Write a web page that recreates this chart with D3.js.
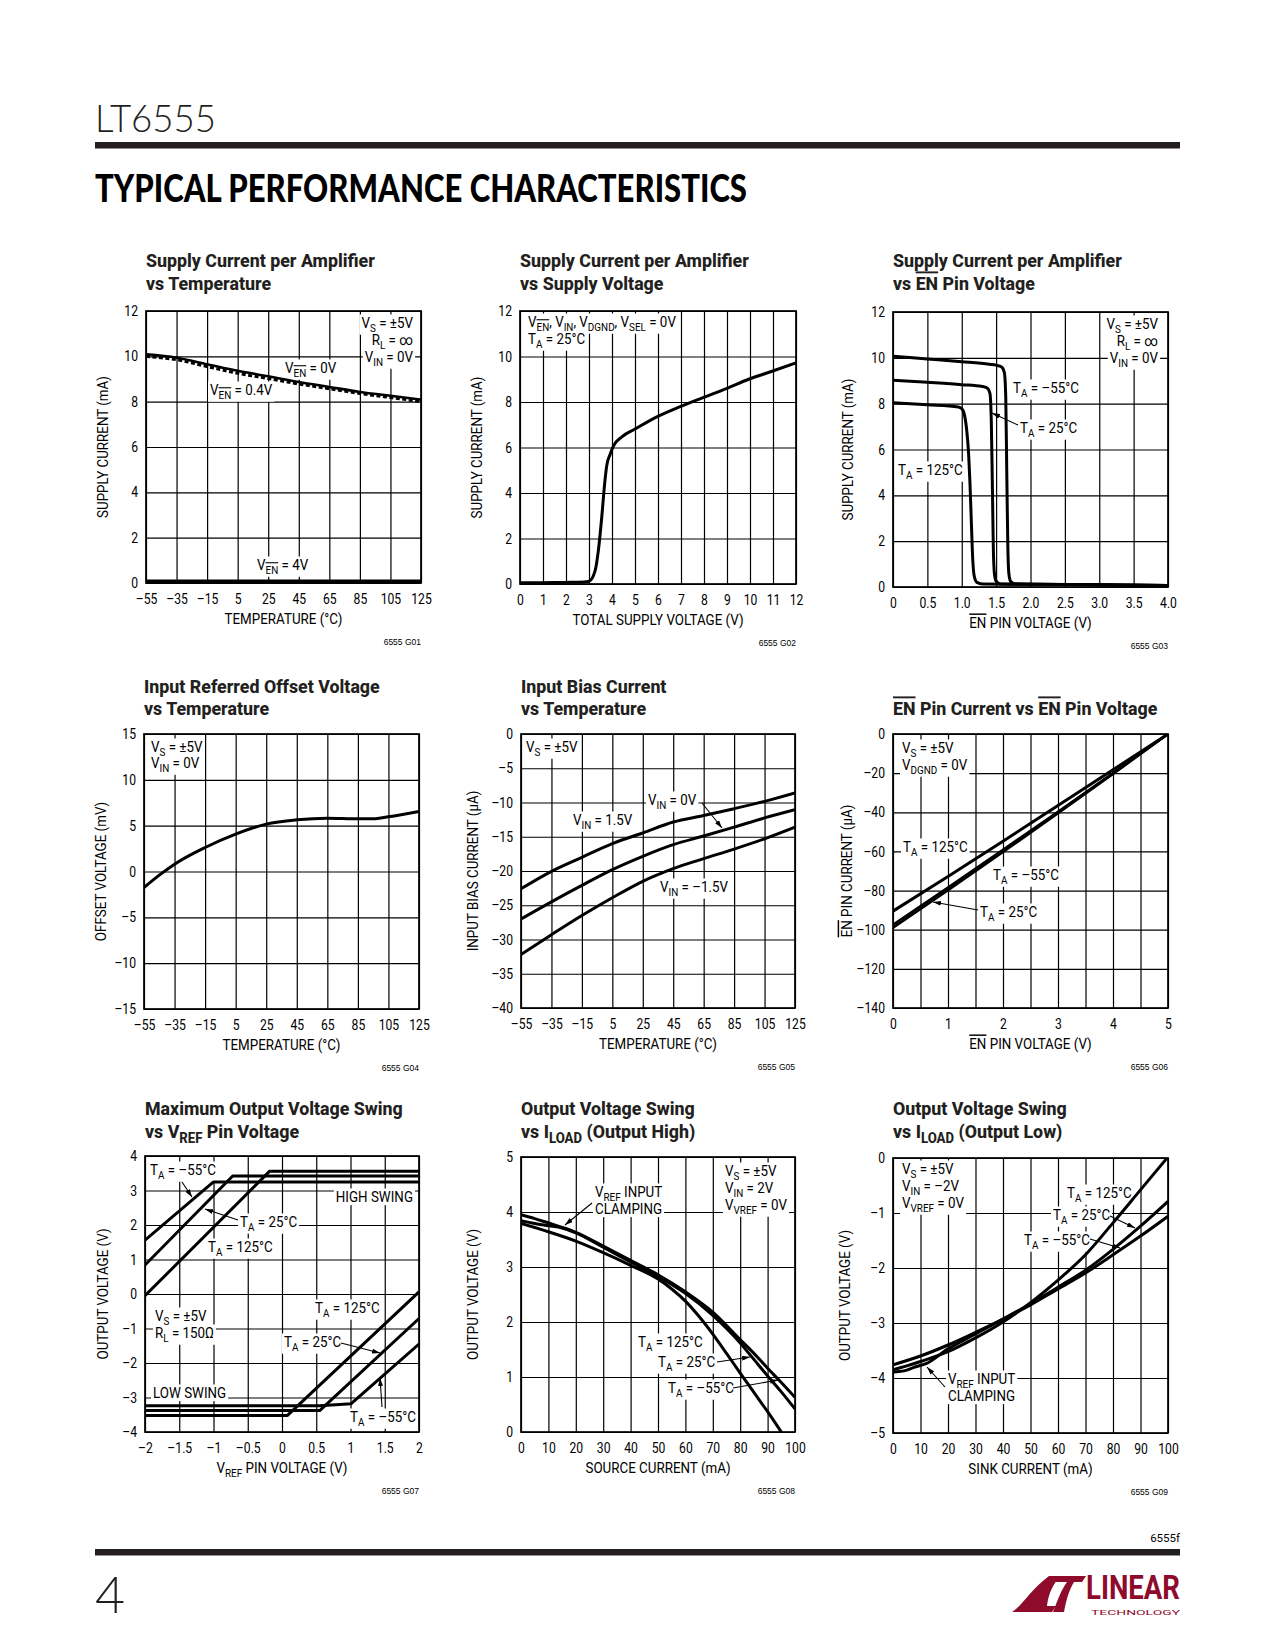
<!DOCTYPE html>
<html><head><meta charset="utf-8">
<script src="https://cdn.jsdelivr.net/npm/d3@7"></script>
<style>
body{margin:0;background:#fff;}
</style></head><body>
<script>
// ================= DATA =================
const tempTicks = [-55,-35,-15,5,25,45,65,85,105,125];
const tempTickLabels = ["–55","–35","–15","5","25","45","65","85","105","125"];
const supplyTicks = [0,2,4,6,8,10,12];
const supplyTickLabels = ["0","2","4","6","8","10","12"];

// G01 supply current vs temperature
const g01_temp = [-55,-35,-15,5,25,45,65,85,105,125];
const g01_ven0V = [10.09,9.94,9.65,9.36,9.12,8.87,8.65,8.43,8.26,8.09];
const g01_ven04V = [10.0,9.85,9.55,9.25,9.02,8.78,8.57,8.36,8.18,8.01];
const g01_ven4V = [0.08,0.08,0.08,0.08,0.08,0.08,0.08,0.08,0.08,0.08];

// G02 supply current vs supply voltage
const g02_xTicks = [0,1,2,3,4,5,6,7,8,9,10,11,12];
const g02_xTickLabels = ["0","1","2","3","4","5","6","7","8","9","10","11","12"];
const g02_vs = [0,1,2,2.8,3.0,3.27,3.41,3.56,3.67,3.77,3.92,4.06,4.43,4.98,5.95,6.97,7.98,9.0,9.94,10.96,12];
const g02_is = [0.05,0.06,0.07,0.09,0.12,0.6,1.5,3.0,4.3,5.2,5.7,6.06,6.47,6.8,7.35,7.8,8.2,8.6,9.0,9.35,9.72];

// G03 supply current vs EN pin voltage
const g03_xTicks = [0,0.5,1,1.5,2,2.5,3,3.5,4];
const g03_xTickLabels = ["0","0.5","1.0","1.5","2.0","2.5","3.0","3.5","4.0"];
const g03_m55_v = [0,0.5,1.0,1.4,1.5,1.58,1.62,1.64,1.655,1.67,1.685,1.71,1.77,2,3,4];
const g03_m55_i = [10.07,9.95,9.83,9.72,9.68,9.6,9.35,8.3,5,1.8,0.6,0.25,0.14,0.12,0.1,0.07];
const g03_25_v = [0,0.5,1.0,1.3,1.37,1.41,1.43,1.445,1.46,1.475,1.5,1.56,2,3,4];
const g03_25_i = [9.02,8.93,8.83,8.75,8.68,8.45,7.2,4.5,1.6,0.6,0.25,0.13,0.12,0.1,0.07];
const g03_125_v = [0,0.5,0.95,1.0,1.04,1.08,1.1,1.12,1.14,1.16,1.18,1.22,1.3,2,3,4];
const g03_125_i = [8.04,7.95,7.85,7.78,7.5,6.6,5.8,4.5,2.8,1.2,0.5,0.2,0.13,0.12,0.1,0.07];

// G04 offset voltage vs temperature
const g04_yTicks = [-15,-10,-5,0,5,10,15];
const g04_yTickLabels = ["–15","–10","–5","0","5","10","15"];
const g04_temp = [-55,-45,-35,-15,5,25,45,65,85,95,105,125];
const g04_vos = [-1.75,-0.4,0.8,2.62,4.08,5.17,5.64,5.82,5.75,5.75,5.97,6.55];

// G05 input bias current vs temperature
const g05_yTicks = [-40,-35,-30,-25,-20,-15,-10,-5,0];
const g05_yTickLabels = ["–40","–35","–30","–25","–20","–15","–10","–5","0"];
const g05_temp = [-55,-35,-15,5,25,45,65,85,105,125];
const g05_vin15 = [-22.6,-20.05,-18.0,-16.0,-14.45,-12.85,-11.9,-10.9,-9.83,-8.6];
const g05_vin0 = [-27.0,-24.5,-22.1,-19.8,-17.85,-16.15,-14.9,-13.6,-12.25,-11.05];
const g05_vinm15 = [-32.2,-29.3,-26.5,-23.9,-21.5,-19.65,-18.2,-16.8,-15.3,-13.6];

// G06 EN pin current vs EN pin voltage
const g06_xTicks = [0,1,2,3,4,5];
const g06_xTickLabels = ["0","1","2","3","4","5"];
const g06_xGrid = [0,0.5,1,1.5,2,2.5,3,3.5,4,4.5,5];
const g06_yTicks = [-140,-120,-100,-80,-60,-40,-20,0];
const g06_yTickLabels = ["–140","–120","–100","–80","–60","–40","–20","0"];
const g06_v = [0,1,2,3,4,5];
const g06_125 = [-90.5,-72.8,-54.8,-36.5,-18.3,0];
const g06_m55 = [-97.5,-78.5,-59.2,-39.7,-20,0];
const g06_25 = [-99,-79.8,-60.3,-40.5,-20.4,0];

// G07 max output swing vs VREF
const g07_xTicks = [-2,-1.5,-1,-0.5,0,0.5,1,1.5,2];
const g07_xTickLabels = ["–2","–1.5","–1","–0.5","0","0.5","1","1.5","2"];
const g07_yTicks = [-4,-3,-2,-1,0,1,2,3,4];
const g07_yTickLabels = ["–4","–3","–2","–1","0","1","2","3","4"];
const g07_hi_m55_x = [-2,-1,2],      g07_hi_m55_y = [1.56,3.25,3.25];
const g07_hi_25_x  = [-2,-0.72,2],   g07_hi_25_y  = [0.84,3.42,3.42];
const g07_hi_125_x = [-2,-0.18,2],   g07_hi_125_y = [-0.05,3.56,3.56];
const g07_lo_125_x = [-2,0.08,2],    g07_lo_125_y = [-3.52,-3.52,0.06];
const g07_lo_25_x  = [-2,0.55,2],    g07_lo_25_y  = [-3.38,-3.38,-0.71];
const g07_lo_m55_x = [-2,0.55,1.01,2], g07_lo_m55_y = [-3.24,-3.24,-3.18,-1.45];

// G08 output swing high vs source current
const loadTicks = [0,10,20,30,40,50,60,70,80,90,100];
const loadTickLabels = ["0","10","20","30","40","50","60","70","80","90","100"];
const g08_yTicks = [0,1,2,3,4,5];
const g08_yTickLabels = ["0","1","2","3","4","5"];
const g08_m55_x = [0,5,10,15,20,30,40,50,60,70,80,85,90,95,100];
const g08_m55_y = [3.95,3.88,3.8,3.72,3.63,3.38,3.12,2.86,2.55,2.18,1.68,1.43,1.16,0.9,0.63];
const g08_25_x = [0,5,10,15,20,30,40,50,60,70,80,85,90,95,100];
const g08_25_y = [3.84,3.79,3.75,3.71,3.62,3.36,3.09,2.83,2.52,2.12,1.62,1.32,1.02,0.73,0.42];
const g08_125_x = [0,10,20,30,40,50,55,60,65,70,75,80,85,90,95];
const g08_125_y = [3.79,3.64,3.47,3.26,3.03,2.78,2.6,2.38,2.1,1.78,1.43,1.07,0.72,0.37,0.0];

// G09 output swing low vs sink current
const g09_yTicks = [-5,-4,-3,-2,-1,0];
const g09_yTickLabels = ["–5","–4","–3","–2","–1","0"];
const g09_125_x = [0,5,10,20,30,40,50,60,70,80,90,100];
const g09_125_y = [-3.85,-3.78,-3.7,-3.52,-3.27,-2.98,-2.63,-2.22,-1.76,-1.18,-0.58,0.02];
const g09_25_x = [0,4,8,12,20,30,40,50,60,70,80,90,100];
const g09_25_y = [-3.89,-3.87,-3.8,-3.74,-3.47,-3.2,-2.93,-2.65,-2.35,-2.04,-1.66,-1.24,-0.79];
const g09_m55_x = [0,10,20,30,40,50,60,70,80,90,100];
const g09_m55_y = [-3.76,-3.6,-3.4,-3.17,-2.93,-2.67,-2.38,-2.09,-1.76,-1.42,-1.06];

// ================= DRAWING =================
const FONT = 'Roboto,"Liberation Sans",Arial,sans-serif';
const svg = d3.select("body").append("svg").attr("width",1275).attr("height",1650)
  .style("background","#fff").attr("font-family",FONT);
const defs = svg.append("defs");
defs.append("marker").attr("id","arr").attr("viewBox","0 0 10 10").attr("refX",10).attr("refY",5)
  .attr("markerWidth",8).attr("markerHeight",5).attr("markerUnits","userSpaceOnUse")
  .attr("preserveAspectRatio","none").attr("orient","auto")
  .append("path").attr("d","M0,0 L10,5 L0,10 z").attr("fill","#000");

function measure(str, fs, weight){
  const t = svg.append("text").attr("font-size",fs).attr("font-weight",weight||null).text(str);
  const w = t.node().getComputedTextLength(); t.remove(); return w;
}
// horizontal compression factors to emulate the condensed datasheet face
const BODY_FS = 14.5, TICK_FS = 14.5, TITLE_FS = 19, TITLE_W = 800;
const bodySX = 118 / measure("TEMPERATURE (°C)", BODY_FS);
const tickSX = 20.5 / measure("125", TICK_FS);
const titleSX = 229 / measure("Supply Current per Amplifier", TITLE_FS, TITLE_W);

function rich(textSel, str, fs){
  const parts = str.split(/(_\{[^}]*\}|\^\{[^}]*\})/).filter(s=>s.length);
  let shifted = false;
  parts.forEach(p=>{
    let t=p, sub=false, over=false;
    if (p.startsWith("_{")) { t=p.slice(2,-1); sub=true; if (t.startsWith("!")) { over=true; t=t.slice(1);} }
    else if (p.startsWith("^{")) { t=p.slice(2,-1); over=true; }
    const ts = textSel.append("tspan").text(t);
    if (sub) { ts.attr("font-size", fs*0.74); if(!shifted){ ts.attr("dy", fs*0.25); shifted=true; } }
    else if (shifted) { ts.attr("dy", -fs*0.25); shifted=false; }
    if (over) ts.attr("text-decoration","overline");
  });
}
// text at (x,y) compressed horizontally by sx
function stext(parent, x, y, str, fs, sx, o={}){
  const g = parent.append("g").attr("transform",`translate(${x},${y})${o.rot?" rotate(-90)":""} scale(${sx},1)`);
  const t = g.append("text").attr("font-size",fs).attr("text-anchor",o.anchor||"start")
    .attr("font-weight",o.weight||null).attr("fill",o.fill||"#000");
  if (o.dy) t.attr("dy",o.dy);
  rich(t, str, fs);
  return t;
}

function series(xs, ys, opt={}){ return Object.assign({pts: xs.map((v,i)=>[v, ys[i]])}, opt); }

let clipN = 0;
function chart(cfg){
  const [x0,y0,x1,y1] = cfg.box;
  const x = d3.scaleLinear().domain(cfg.xDomain).range([x0,x1]);
  const y = d3.scaleLinear().domain(cfg.yDomain).range([y1,y0]);
  const g = svg.append("g");
  const cid = "clip"+(clipN++);
  defs.append("clipPath").attr("id",cid).append("rect").attr("x",x0).attr("y",y0).attr("width",x1-x0).attr("height",y1-y0);

  // grid
  const gx = g.append("g").attr("transform",`translate(0,${y1})`)
    .call(d3.axisBottom(x).tickValues(cfg.xGrid||cfg.xTicks).tickSize(-(y1-y0)).tickFormat(""));
  gx.select(".domain").remove();
  gx.selectAll("line").attr("stroke","#000").attr("stroke-width",1.2);
  const gy = g.append("g").attr("transform",`translate(${x0},0)`)
    .call(d3.axisLeft(y).tickValues(cfg.yTicks).tickSize(-(x1-x0)).tickFormat(""));
  gy.select(".domain").remove();
  gy.selectAll("line").attr("stroke","#000").attr("stroke-width",1.2);

  // tick labels
  const tx = g.append("g").attr("transform",`translate(0,${y1})`)
    .call(d3.axisBottom(x).tickValues(cfg.xTicks).tickSize(0).tickPadding(11).tickFormat((d,i)=>cfg.xLabels[i]));
  tx.select(".domain").remove();
  tx.attr("font-family",FONT).attr("font-size",TICK_FS);
  tx.selectAll("text").attr("fill","#000").attr("transform",`scale(${tickSX},1)`);
  const ty = g.append("g").attr("transform",`translate(${x0},0)`)
    .call(d3.axisLeft(y).tickValues(cfg.yTicks).tickSize(0).tickPadding(8).tickFormat((d,i)=>cfg.yLabels[i]));
  ty.select(".domain").remove();
  ty.attr("font-family",FONT).attr("font-size",TICK_FS);
  ty.selectAll("text").attr("fill","#000").attr("x",-8/tickSX).attr("transform",`scale(${tickSX},1)`);

  const boxes = g.append("g");
  const curves = g.append("g").attr("clip-path",`url(#${cid})`);
  const texts = g.append("g");
  const arrows = g.append("g");

  // annotations
  (cfg.ann||[]).forEach(a=>{
    a.lines.forEach((ln,i)=>{
      const X = x0+a.at[0], Y = y0+a.at[1]+i*(a.lh||16);
      const lt = stext(texts, X, Y, ln, BODY_FS, bodySX, {anchor:a.anchor});
      const bb = lt.node().getBBox();
      boxes.append("rect").attr("x",X+bb.x*bodySX-2).attr("y",Y+bb.y)
        .attr("width",bb.width*bodySX+4).attr("height",bb.height).attr("fill","#fff");
    });
    if (a.arrow){
      const [f,to] = a.arrow;
      arrows.append("line").attr("x1",x0+f[0]).attr("y1",y0+f[1]).attr("x2",x0+to[0]).attr("y2",y0+to[1])
        .attr("stroke","#000").attr("stroke-width",1.1).attr("marker-end","url(#arr)");
    }
  });

  // curves
  cfg.series.forEach(s=>{
    const line = d3.line().x(d=>x(d[0])).y(d=>y(d[1])).curve(s.curve||d3.curveMonotoneX);
    curves.append("path").attr("d",line(s.pts)).attr("fill","none").attr("stroke","#000")
      .attr("stroke-width",s.w||3).attr("stroke-dasharray",s.dash||null).attr("stroke-linejoin","round");
  });

  // frame
  g.append("rect").attr("x",x0).attr("y",y0).attr("width",x1-x0).attr("height",y1-y0)
    .attr("fill","none").attr("stroke","#000").attr("stroke-width",1.7);

  // titles
  cfg.title.forEach((ln,i)=>{
    stext(g, x0, cfg.titleY[i], ln, TITLE_FS, titleSX, {weight:TITLE_W, fill:"#231f20"});
  });
  // axis titles
  stext(g, (x0+x1)/2, y1+41, cfg.xTitle, BODY_FS, bodySX, {anchor:"middle"});
  stext(g, x0+cfg.yTitleDx, (y0+y1)/2, cfg.yTitle, BODY_FS, bodySX, {anchor:"middle", rot:true, dy:"0.36em"});
  g.append("text").attr("x",x1).attr("y",y1+62).attr("text-anchor","end").attr("font-size",8.5)
    .attr("font-family","'Liberation Sans',Arial,sans-serif").text(cfg.gid);
}

const VS = "V_{S} = ±5V";

chart({box:[146,311,421,583], xDomain:[-55,125], yDomain:[0,12],
  xTicks:tempTicks, xLabels:tempTickLabels, yTicks:supplyTicks, yLabels:supplyTickLabels,
  title:["Supply Current per Amplifier","vs Temperature"], titleY:[267,290],
  xTitle:"TEMPERATURE (°C)", yTitle:"SUPPLY CURRENT (mA)", yTitleDx:-43, gid:"6555 G01",
  series:[series(g01_temp,g01_ven04V,{dash:"4,2.5",w:3}), series(g01_temp,g01_ven0V,{w:2.6}), series(g01_temp,g01_ven4V,{w:3.5})],
  ann:[{at:[267,17],anchor:"end",lh:17,lines:[VS,"R_{L} = ∞","V_{IN} = 0V"]},
       {at:[139,62],lines:["V_{!EN} = 0V"]},
       {at:[64,84],lines:["V_{!EN} = 0.4V"]},
       {at:[111,259],lines:["V_{!EN} = 4V"]}]});

chart({box:[520,311,796,584], xDomain:[0,12], yDomain:[0,12],
  xTicks:g02_xTicks, xLabels:g02_xTickLabels, yTicks:supplyTicks, yLabels:supplyTickLabels,
  title:["Supply Current per Amplifier","vs Supply Voltage"], titleY:[267,290],
  xTitle:"TOTAL SUPPLY VOLTAGE (V)", yTitle:"SUPPLY CURRENT (mA)", yTitleDx:-43, gid:"6555 G02",
  series:[series(g02_vs,g02_is)],
  ann:[{at:[8,16],lh:17,lines:["V_{!EN}, V_{IN}, V_{DGND}, V_{SEL} = 0V","T_{A} = 25°C"]}]});

chart({box:[893,312,1168,587], xDomain:[0,4], yDomain:[0,12],
  xTicks:g03_xTicks, xLabels:g03_xTickLabels, yTicks:supplyTicks, yLabels:supplyTickLabels,
  title:["Supply Current per Amplifier","vs ^{EN} Pin Voltage"], titleY:[267,290],
  xTitle:"^{EN} PIN VOLTAGE (V)", yTitle:"SUPPLY CURRENT (mA)", yTitleDx:-45, gid:"6555 G03",
  series:[series(g03_m55_v,g03_m55_i), series(g03_25_v,g03_25_i), series(g03_125_v,g03_125_i)],
  ann:[{at:[265,17],anchor:"end",lh:17,lines:[VS,"R_{L} = ∞","V_{IN} = 0V"]},
       {at:[120,81],lines:["T_{A} = –55°C"]},
       {at:[127,121],lines:["T_{A} = 25°C"],arrow:[[125,113],[99,101]]},
       {at:[5,163],lines:["T_{A} = 125°C"]}]});

chart({box:[144,734,419,1009], xDomain:[-55,125], yDomain:[-15,15],
  xTicks:tempTicks, xLabels:tempTickLabels, yTicks:g04_yTicks, yLabels:g04_yTickLabels,
  title:["Input Referred Offset Voltage","vs Temperature"], titleY:[693,715],
  xTitle:"TEMPERATURE (°C)", yTitle:"OFFSET VOLTAGE (mV)", yTitleDx:-43, gid:"6555 G04",
  series:[series(g04_temp,g04_vos)],
  ann:[{at:[7,18],lh:16,lines:[VS,"V_{IN} = 0V"]}]});

chart({box:[521,734,795,1008], xDomain:[-55,125], yDomain:[-40,0],
  xTicks:tempTicks, xLabels:tempTickLabels, yTicks:g05_yTicks, yLabels:g05_yTickLabels,
  title:["Input Bias Current","vs Temperature"], titleY:[693,715],
  xTitle:"TEMPERATURE (°C)", yTitle:"INPUT BIAS CURRENT (µA)", yTitleDx:-48, gid:"6555 G05",
  series:[series(g05_temp,g05_vin15), series(g05_temp,g05_vin0), series(g05_temp,g05_vinm15)],
  ann:[{at:[5,18],lines:[VS]},
       {at:[127,71],lines:["V_{IN} = 0V"],arrow:[[181,69],[201,94]]},
       {at:[52,91],lines:["V_{IN} = 1.5V"]},
       {at:[139,158],lines:["V_{IN} = –1.5V"]}]});

chart({box:[893,734,1168,1008], xDomain:[0,5], yDomain:[-140,0],
  xTicks:g06_xTicks, xLabels:g06_xTickLabels, xGrid:g06_xGrid, yTicks:g06_yTicks, yLabels:g06_yTickLabels,
  title:["^{EN} Pin Current vs ^{EN} Pin Voltage"], titleY:[715],
  xTitle:"^{EN} PIN VOLTAGE (V)", yTitle:"^{EN} PIN CURRENT (µA)", yTitleDx:-46, gid:"6555 G06",
  series:[series(g06_v,g06_125,{curve:d3.curveLinear}), series(g06_v,g06_m55,{curve:d3.curveLinear,w:2.6}), series(g06_v,g06_25,{curve:d3.curveLinear,w:2.6})],
  ann:[{at:[9,19],lh:17,lines:[VS,"V_{DGND} = 0V"]},
       {at:[10,118],lines:["T_{A} = 125°C"]},
       {at:[100,146],lines:["T_{A} = –55°C"]},
       {at:[87,183],lines:["T_{A} = 25°C"],arrow:[[85,176],[40,168]]}]});

chart({box:[145,1156,419,1432], xDomain:[-2,2], yDomain:[-4,4],
  xTicks:g07_xTicks, xLabels:g07_xTickLabels, yTicks:g07_yTicks, yLabels:g07_yTickLabels,
  title:["Maximum Output Voltage Swing","vs V_{REF} Pin Voltage"], titleY:[1115,1138],
  xTitle:"V_{REF} PIN VOLTAGE (V)", yTitle:"OUTPUT VOLTAGE (V)", yTitleDx:-42, gid:"6555 G07",
  series:[series(g07_hi_m55_x,g07_hi_m55_y,{curve:d3.curveLinear}), series(g07_hi_25_x,g07_hi_25_y,{curve:d3.curveLinear}),
          series(g07_hi_125_x,g07_hi_125_y,{curve:d3.curveLinear}), series(g07_lo_125_x,g07_lo_125_y,{curve:d3.curveLinear}),
          series(g07_lo_25_x,g07_lo_25_y,{curve:d3.curveLinear}), series(g07_lo_m55_x,g07_lo_m55_y,{curve:d3.curveLinear})],
  ann:[{at:[5,19],lines:["T_{A} = –55°C"],arrow:[[37,26],[47,41]]},
       {at:[268,46],anchor:"end",lines:["HIGH SWING"]},
       {at:[95,71],lines:["T_{A} = 25°C"],arrow:[[93,64],[60,53]]},
       {at:[63,96],lines:["T_{A} = 125°C"]},
       {at:[10,165],lh:17,lines:[VS,"R_{L} = 150Ω"]},
       {at:[170,157],lines:["T_{A} = 125°C"]},
       {at:[139,191],lines:["T_{A} = 25°C"],arrow:[[196,187],[235,197]]},
       {at:[8,242],lines:["LOW SWING"]},
       {at:[205,266],lines:["T_{A} = –55°C"],arrow:[[237,251],[235,222]]}]});

chart({box:[521,1157,795,1432], xDomain:[0,100], yDomain:[0,5],
  xTicks:loadTicks, xLabels:loadTickLabels, yTicks:g08_yTicks, yLabels:g08_yTickLabels,
  title:["Output Voltage Swing","vs I_{LOAD} (Output High)"], titleY:[1115,1138],
  xTitle:"SOURCE CURRENT (mA)", yTitle:"OUTPUT VOLTAGE (V)", yTitleDx:-48, gid:"6555 G08",
  series:[series(g08_m55_x,g08_m55_y), series(g08_25_x,g08_25_y), series(g08_125_x,g08_125_y)],
  ann:[{at:[204,19],lh:17,lines:[VS,"V_{IN} = 2V","V_{VREF} = 0V"]},
       {at:[74,40],lh:17,lines:["V_{REF} INPUT","CLAMPING"],arrow:[[71,46],[44,68]]},
       {at:[117,190],lines:["T_{A} = 125°C"]},
       {at:[137,210],lines:["T_{A} = 25°C"],arrow:[[196,205],[229,200]]},
       {at:[147,236],lines:["T_{A} = –55°C"],arrow:[[212,231],[257,223]]}]});

chart({box:[893,1158,1168,1433], xDomain:[0,100], yDomain:[-5,0],
  xTicks:loadTicks, xLabels:loadTickLabels, yTicks:g09_yTicks, yLabels:g09_yTickLabels,
  title:["Output Voltage Swing","vs I_{LOAD} (Output Low)"], titleY:[1115,1138],
  xTitle:"SINK CURRENT (mA)", yTitle:"OUTPUT VOLTAGE (V)", yTitleDx:-48, gid:"6555 G09",
  series:[series(g09_125_x,g09_125_y), series(g09_25_x,g09_25_y), series(g09_m55_x,g09_m55_y)],
  ann:[{at:[9,16],lh:17,lines:[VS,"V_{IN} = –2V","V_{VREF} = 0V"]},
       {at:[174,40],lines:["T_{A} = 125°C"]},
       {at:[160,62],lines:["T_{A} = 25°C"],arrow:[[217,58],[242,70]]},
       {at:[131,87],lines:["T_{A} = –55°C"],arrow:[[197,81],[227,90]]},
       {at:[55,226],lh:17,lines:["V_{REF} INPUT","CLAMPING"],arrow:[[52,229],[34,209]]}]});

// ================= PAGE HEADER / FOOTER =================
svg.append("text").attr("x",95).attr("y",132).attr("font-family","Lato,'Open Sans',sans-serif").attr("font-weight",300)
  .attr("font-size",37).attr("textLength",121).attr("lengthAdjust","spacingAndGlyphs").attr("fill","#231f20").text("LT6555");
svg.append("rect").attr("x",95).attr("y",142).attr("width",1085).attr("height",6.5).attr("fill","#231f20");
svg.append("text").attr("x",95).attr("y",202).attr("font-family","Lato,'DejaVu Sans',sans-serif").attr("font-weight",900)
  .attr("font-size",37).attr("textLength",652).attr("lengthAdjust","spacingAndGlyphs").attr("fill","#000")
  .text("TYPICAL PERFORMANCE CHARACTERISTICS");

svg.append("text").attr("x",1180).attr("y",1542).attr("text-anchor","end").attr("font-size",11.5).text("6555f");
svg.append("rect").attr("x",95).attr("y",1549).attr("width",1085).attr("height",6.5).attr("fill","#231f20");
svg.append("text").attr("x",95).attr("y",1613).attr("font-family","Lato,'Open Sans',sans-serif").attr("font-weight",300)
  .attr("font-size",52).attr("fill","#231f20").text("4");

// logo
const red = "#8f0b2c";
const logo = svg.append("g").attr("fill",red);
logo.append("path").attr("d","M1049,1576 L1060,1576 C1050,1588 1048,1598 1047,1606 L1056,1606 L1052,1612 L1012,1612 C1024,1604 1030,1590 1049,1576 Z");
logo.append("path").attr("d","M1056,1576 L1086,1576 L1082,1582 L1074,1582 C1068,1592 1066,1602 1064,1612 L1053,1612 C1057,1602 1061,1590 1067,1582 L1052,1582 Z");
svg.append("g").attr("transform","translate(1086,1599) scale(1,1.3)").append("text")
  .attr("font-size",26).attr("font-weight","bold").attr("fill",red)
  .attr("textLength",94).attr("lengthAdjust","spacingAndGlyphs").text("LINEAR");
svg.append("text").attr("x",1091).attr("y",1615).attr("font-size",8).attr("fill",red)
  .attr("textLength",89).attr("lengthAdjust","spacingAndGlyphs").text("TECHNOLOGY");
</script>
</body></html>
